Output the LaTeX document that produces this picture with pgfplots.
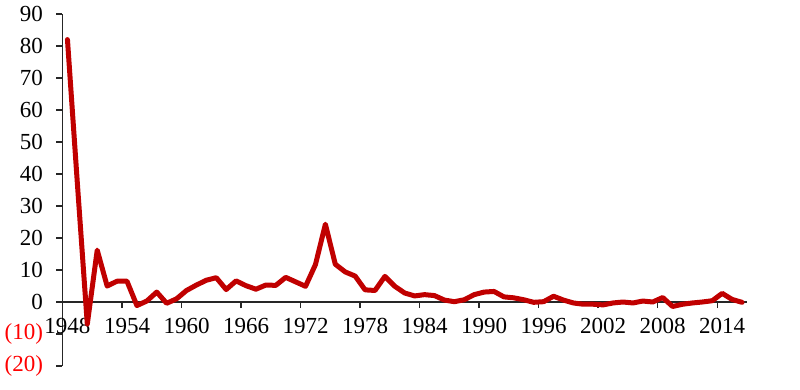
\documentclass[border=0pt]{standalone}
\usepackage{pgfplots}
\pgfplotsset{compat=1.18}
\usepackage{fontspec}
\setmainfont{Liberation Serif}
\definecolor{lineRed}{RGB}{192,0,0}
\definecolor{negRed}{RGB}{255,0,0}
\newcommand{\pp}{\hspace{4.5pt}}
\begin{document}
\begin{tikzpicture}
\path (-62.5pt,-23pt) rectangle (737.5pt,366pt);
\begin{axis}[
  at={(0,0)}, anchor=south west,
  scale only axis, width=684.5pt, height=352pt,
  xmin=1947.5, xmax=2016.5, ymin=-20, ymax=90,
  axis y line=left, axis x line=middle,
  hide obscured x ticks=false, hide obscured y ticks=false,
  axis line style={-, line width=1.6pt, black!85},
  tick style={line width=1.4pt, black!85},
  tick align=outside, major tick length=6pt,
  xtick={1947.5,1953.5,...,2013.5},
  xticklabels={1948,1954,1960,1966,1972,1978,1984,1990,1996,2002,2008,2014},
  xticklabel style={xshift=5pt, yshift=-7pt, font=\fontsize{23}{26}\selectfont},
  ytick={-20,-10,...,90},
  yticklabels={\textcolor{negRed}{(20)},\textcolor{negRed}{(10)},0\pp,10\pp,20\pp,30\pp,40\pp,50\pp,60\pp,70\pp,80\pp,90\pp},
  yticklabel style={xshift=-10pt, font=\fontsize{23}{26}\selectfont},
  /pgf/number format/assume math mode=true,
  clip=false,
]
\addplot[lineRed, line width=5pt, line join=round, line cap=round, mark=none] table[x=year, y=val] {
year val
1948 82
1949 37
1950 -6.9
1951 16.2
1952 5.0
1953 6.5
1954 6.5
1955 -1.1
1956 0.3
1957 3.1
1958 -0.4
1959 1.0
1960 3.6
1961 5.3
1962 6.8
1963 7.6
1964 3.9
1965 6.6
1966 5.1
1967 4.0
1968 5.3
1969 5.2
1970 7.7
1971 6.3
1972 4.9
1973 11.7
1974 24.3
1975 11.8
1976 9.4
1977 8.1
1978 3.8
1979 3.6
1980 8.0
1981 4.9
1982 2.8
1983 1.9
1984 2.3
1985 2.0
1986 0.6
1987 0.1
1988 0.7
1989 2.3
1990 3.1
1991 3.3
1992 1.6
1993 1.3
1994 0.7
1995 -0.1
1996 0.1
1997 1.8
1998 0.6
1999 -0.3
2000 -0.7
2001 -0.7
2002 -0.9
2003 -0.3
2004 0.0
2005 -0.3
2006 0.3
2007 0.0
2008 1.4
2009 -1.4
2010 -0.7
2011 -0.3
2012 0.0
2013 0.4
2014 2.7
2015 0.8
2016 -0.1
};
\end{axis}
\end{tikzpicture}
\end{document}
